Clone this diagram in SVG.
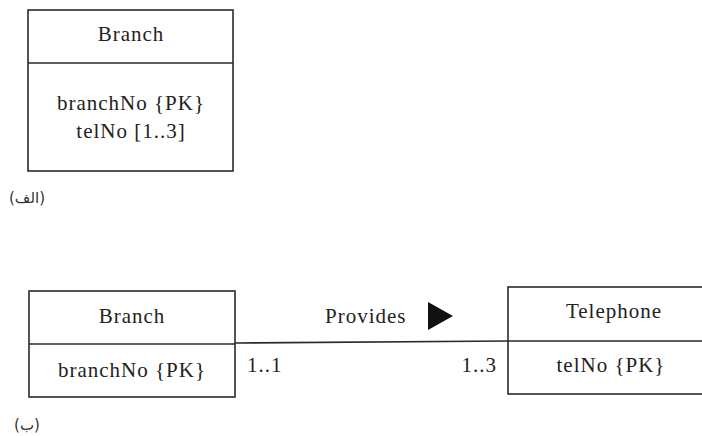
<svg xmlns="http://www.w3.org/2000/svg" width="702" height="436" viewBox="0 0 702 436">
<style>
.box{fill:none;stroke:#2a2a2a;stroke-width:1.6}
.t{font-family:"Liberation Serif",serif;font-size:21px;letter-spacing:1px;fill:#222;text-anchor:middle}
.m{font-family:"Liberation Serif",serif;font-size:21px;letter-spacing:1px;fill:#222}
.lab{font-family:"DejaVu Sans",sans-serif;font-size:15px;fill:#333;text-anchor:middle}
</style>
<rect width="702" height="436" fill="#fff"/>
<g id="branch-a">
<rect class="box" x="28" y="10" width="205" height="161"/>
<line class="box" x1="28" y1="63" x2="233" y2="63"/>
<text class="t" x="131" y="41">Branch</text>
<text class="t" x="131" y="110">branchNo {PK}</text>
<text class="t" x="131" y="138">telNo [1..3]</text>
</g>
<text class="lab" x="27" y="203">(الف)</text>
<g id="branch-b">
<rect class="box" x="29" y="291" width="206" height="106"/>
<line class="box" x1="29" y1="344" x2="235" y2="344"/>
<text class="t" x="132" y="323">Branch</text>
<text class="t" x="132" y="377">branchNo {PK}</text>
</g>
<g id="telephone">
<rect class="box" x="508" y="287" width="200" height="107"/>
<line class="box" x1="508" y1="341" x2="708" y2="341"/>
<text class="t" x="614" y="318">Telephone</text>
<text class="t" x="611" y="372">telNo {PK}</text>
</g>
<g id="connectors">
<line class="box" x1="235" y1="343" x2="508" y2="341"/>
<text class="m" x="325" y="323">Provides</text>
<polygon points="428,302 453,316 428,330" fill="#111"/>
<text class="m" x="247" y="372">1..1</text>
<text class="m" x="497" y="372" text-anchor="end">1..3</text>
</g>
<text class="lab" x="27" y="430">(ب)</text>
</svg>
